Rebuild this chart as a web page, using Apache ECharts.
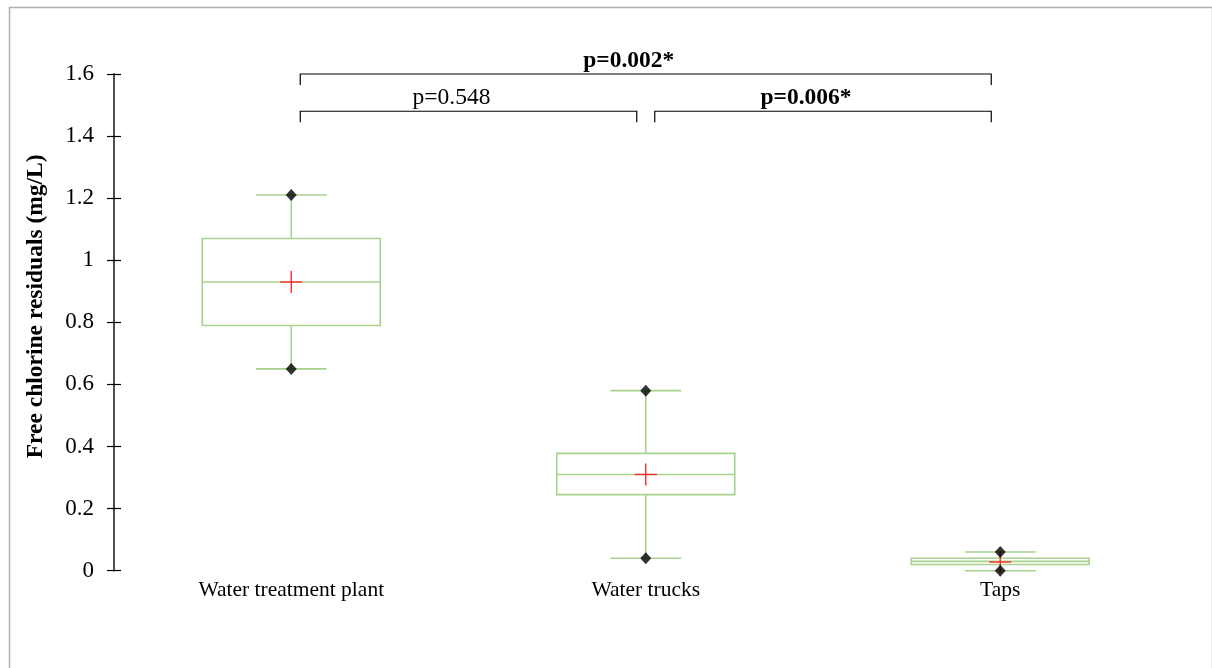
<!DOCTYPE html>
<html>
<head>
<meta charset="utf-8">
<script src="https://cdn.jsdelivr.net/npm/echarts@6/dist/echarts.min.js"></script>
<style>
html,body{margin:0;padding:0;background:#fff;}
#chart{width:1212px;height:668px;}
</style>
</head>
<body>
<div id="chart"></div>
<script>
// ---- data ----
const categories = ['Water treatment plant', 'Water trucks', 'Taps'];
const minVals    = [0.65, 0.04, 0.00];
const q1Vals     = [0.79, 0.245, 0.02];
const medianVals = [0.93, 0.31, 0.03];
const q3Vals     = [1.07, 0.378, 0.04];
const maxVals    = [1.21, 0.58, 0.06];
const meanVals   = [0.93, 0.31, 0.028];
const yMin = 0, yMax = 1.6, yInterval = 0.2;
const compFrom   = [0, 0, 1];
const compTo     = [2, 1, 2];
const compLevel  = [1.6, 1.48, 1.48];
const compLabels = ['p=0.002*', 'p=0.548', 'p=0.006*'];
const compBold   = [true, false, true];

// ---- build ----
const boxData = categories.map((c, i) => [i, minVals[i], q1Vals[i], medianVals[i], q3Vals[i], maxVals[i]]);
const extremeData = [];
categories.forEach((c, i) => { extremeData.push([i, minVals[i]]); extremeData.push([i, maxVals[i]]); });
const meanData = categories.map((c, i) => [i, meanVals[i]]);
const compData = compFrom.map((f, i) => [f, compTo[i], compLevel[i], i]);

const GREEN = '#a9d18e';
const FONT = '"Liberation Serif", "Times New Roman", serif';

const chart = echarts.init(document.getElementById('chart'), null, {renderer: 'canvas'});
chart.setOption({
  animation: false,
  backgroundColor: '#fff',
  graphic: [{
    type: 'rect', left: 7, top: 5, silent: true,
    shape: {width: 1203, height: 700},
    style: {fill: 'none', stroke: '#b0b0b0', lineWidth: 1.5}
  }],
  grid: {left: 114, right: 34.5, top: 74, bottom: 97.3, containLabel: false},
  xAxis: {
    type: 'category', data: categories, boundaryGap: true,
    axisLine: {show: false}, axisTick: {show: false}, splitLine: {show: false},
    axisLabel: {fontFamily: FONT, fontSize: 21.5, color: '#000', margin: 9}
  },
  yAxis: [{
    type: 'value', min: yMin, max: yMax, interval: yInterval,
    name: 'Free chlorine residuals (mg/L)', nameLocation: 'middle', nameGap: 66,
    nameTextStyle: {fontFamily: FONT, fontSize: 23.5, fontWeight: 'bold', color: '#000', padding: [0, 0, 0, 32]},
    axisLine: {show: true, lineStyle: {color: '#505050', width: 2}},
    axisTick: {show: true, length: 7, lineStyle: {color: '#000', width: 1.2}},
    splitLine: {show: false},
    axisLabel: {fontFamily: FONT, fontSize: 23, color: '#000', margin: 20}
  }, {
    type: 'value', min: yMin, max: yMax, interval: yInterval, position: 'left',
    axisLine: {show: false},
    axisTick: {show: true, inside: true, length: 7, lineStyle: {color: '#000', width: 1.2}},
    axisLabel: {show: false}, splitLine: {show: false}
  }],
  series: [{
    type: 'custom',
    data: boxData,
    renderItem: function (params, api) {
      const idx = api.value(0);
      const bw = api.size([1, 0])[0];
      const half = bw * 0.251, capHalf = bw * 0.1;
      const pMin = api.coord([idx, api.value(1)]);
      const pQ1 = api.coord([idx, api.value(2)]);
      const pMed = api.coord([idx, api.value(3)]);
      const pQ3 = api.coord([idx, api.value(4)]);
      const pMax = api.coord([idx, api.value(5)]);
      const x = pMed[0];
      const st = {stroke: GREEN, lineWidth: 1.6, fill: 'none'};
      return {
        type: 'group',
        children: [
          {type: 'line', shape: {x1: x, y1: pQ3[1], x2: x, y2: pMax[1]}, style: st},
          {type: 'line', shape: {x1: x, y1: pQ1[1], x2: x, y2: pMin[1]}, style: st},
          {type: 'line', shape: {x1: x - capHalf, y1: pMax[1], x2: x + capHalf, y2: pMax[1]}, style: st},
          {type: 'line', shape: {x1: x - capHalf, y1: pMin[1], x2: x + capHalf, y2: pMin[1]}, style: st},
          {type: 'rect', shape: {x: x - half, y: pQ3[1], width: half * 2, height: pQ1[1] - pQ3[1]}, style: st},
          {type: 'line', shape: {x1: x - half, y1: pMed[1], x2: x + half, y2: pMed[1]}, style: st}
        ]
      };
    },
    z: 2
  }, {
    type: 'custom',
    data: meanData,
    renderItem: function (params, api) {
      const p = api.coord([api.value(0), api.value(1)]);
      const s = 11;
      const st = {stroke: '#ff2020', lineWidth: 1.3};
      return {
        type: 'group',
        children: [
          {type: 'line', shape: {x1: p[0] - s, y1: p[1], x2: p[0] + s, y2: p[1]}, style: st},
          {type: 'line', shape: {x1: p[0], y1: p[1] - s, x2: p[0], y2: p[1] + s}, style: st}
        ]
      };
    },
    z: 3
  }, {
    type: 'scatter',
    data: extremeData,
    symbol: 'diamond', symbolSize: [11, 12],
    itemStyle: {color: '#000'},
    z: 4
  }, {
    type: 'custom',
    data: compData,
    renderItem: function (params, api) {
      const a = api.coord([api.value(0), api.value(2)]);
      const b = api.coord([api.value(1), api.value(2)]);
      const i = api.value(3);
      const x1 = a[0] + 9, x2 = b[0] - 9, y = a[1];
      const drop = 11;
      const st = {stroke: '#000', lineWidth: 1.2, fill: 'none'};
      return {
        type: 'group',
        children: [
          {type: 'polyline', shape: {points: [[x1, y + drop], [x1, y], [x2, y], [x2, y + drop]]}, style: st},
          {type: 'text', style: {
            text: compLabels[i], x: (x1 + x2) / 2 - 17, y: y - 1,
            align: 'center', verticalAlign: 'bottom',
            font: (compBold[i] ? 'bold ' : '') + '23.5px ' + FONT, fill: '#000'
          }}
        ]
      };
    },
    z: 5
  }]
});
</script>
</body>
</html>
